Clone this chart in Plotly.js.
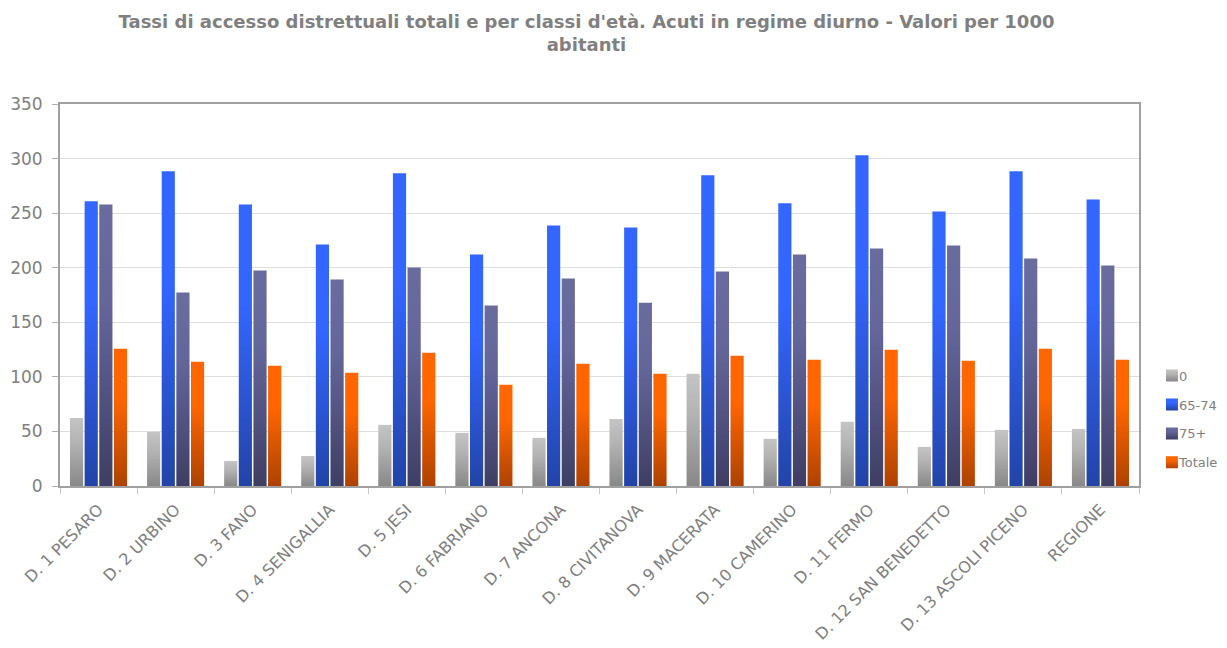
<!DOCTYPE html>
<html>
<head>
<meta charset="utf-8">
<script src="https://cdn.plot.ly/plotly-3.0.1.min.js"></script>
<style>
html,body{margin:0;padding:0;background:#fff;}
#chart{width:1227px;height:648px;}
</style>
</head>
<body>
<div id="chart"></div>
<script>
const categories = ["D. 1 PESARO","D. 2 URBINO","D. 3 FANO","D. 4 SENIGALLIA","D. 5 JESI","D. 6 FABRIANO","D. 7 ANCONA","D. 8 CIVITANOVA","D. 9 MACERATA","D. 10 CAMERINO","D. 11 FERMO","D. 12 SAN BENEDETTO","D. 13 ASCOLI PICENO","REGIONE"];
const seriesNames = ["0","65-74","75+","Totale"];
const val0     = [62.4, 49.6, 23.0, 27.5, 56.0, 48.7, 44.1, 61.5, 102.8, 43.2, 58.8, 35.8, 51.4, 52.3];
const val6574  = [260.8, 288.3, 258.0, 221.3, 286.5, 212.1, 238.7, 236.9, 284.7, 259.0, 303.0, 251.6, 288.3, 262.6];
const val75    = [258.0, 177.2, 197.4, 189.2, 200.2, 165.3, 190.1, 168.0, 196.5, 212.1, 217.6, 220.4, 208.4, 202.0];
const valTot   = [125.8, 113.9, 110.2, 103.8, 122.1, 92.7, 112.0, 102.8, 119.4, 115.7, 124.9, 114.8, 125.8, 115.7];
const yTicks = [0, 50, 100, 150, 200, 250, 300, 350];

const grads = [
  {top:"#c4c4c4", mid:"#b4b4b4", bot:"#888888"},
  {top:"#3366ff", mid:"#3366ff", bot:"#2244a8"},
  {top:"#6a6c9e", mid:"#64669a", bot:"#3e3e64"},
  {top:"#ff6600", mid:"#ff6600", bot:"#ad4200"}
];
const allVals = [val0, val6574, val75, valTot];

const traces = allVals.map((v, i) => ({
  type: "bar",
  name: seriesNames[i],
  x: categories,
  y: v,
  legendgroup: "g" + i,
  marker: {color: grads[i].top, line: {width: 0}},
  hoverinfo: "x+y+name"
}));

const grey = "#808080";
const layout = {
  width: 1227, height: 648,
  paper_bgcolor: "#ffffff", plot_bgcolor: "#ffffff",
  margin: {l: 60, r: 88, t: 104, b: 162, pad: 0, autoexpand: false},
  barmode: "group",
  bargap: 0.24,
  bargroupgap: 0.1,
  title: {
    text: "<b>Tassi di accesso distrettuali totali e per classi d'età. Acuti in regime diurno - Valori per 1000<br>abitanti</b>",
    font: {family: "DejaVu Sans", size: 18, color: grey},
    x: 0.478, xref: "container", xanchor: "center",
    y: 0.957, yref: "container", yanchor: "top"
  },
  font: {family: "DejaVu Sans", color: grey},
  xaxis: {
    type: "category",
    tickangle: -45,
    tickfont: {family: "DejaVu Sans", size: 16, color: grey},
    ticks: "outside", ticklen: 6, tickcolor: "#c8c8c8", tickson: "boundaries",
    ticklabelstandoff: 6,
    showline: true, linecolor: "#a0a0a0", linewidth: 2, mirror: true,
    showgrid: false, zeroline: false, fixedrange: true
  },
  yaxis: {
    range: [0, 350],
    tickvals: yTicks,
    tickfont: {family: "DejaVu Sans", size: 17, color: grey},
    ticks: "outside", ticklen: 6, tickcolor: "#b0b0b0",
    ticklabelstandoff: 6,
    showline: true, linecolor: "#a0a0a0", linewidth: 2, mirror: true,
    showgrid: true, gridcolor: "#dddddd", gridwidth: 1,
    zeroline: false, fixedrange: true
  },
  showlegend: true,
  legend: {
    x: 1.012, xanchor: "left", y: 0.175, yanchor: "middle",
    font: {family: "DejaVu Sans", size: 13, color: grey},
    traceorder: "grouped", tracegroupgap: 9,
    itemwidth: 30, bgcolor: "rgba(0,0,0,0)"
  }
};

function applyGradients(gd) {
  const svg = gd.querySelector(".main-svg");
  if (!svg) return;
  let defs = svg.querySelector("defs");
  if (!defs) { defs = document.createElementNS("http://www.w3.org/2000/svg", "defs"); svg.insertBefore(defs, svg.firstChild); }
  grads.forEach((g, i) => {
    if (svg.querySelector("#bargrad" + i)) return;
    const lg = document.createElementNS("http://www.w3.org/2000/svg", "linearGradient");
    lg.setAttribute("id", "bargrad" + i);
    lg.setAttribute("x1", "0"); lg.setAttribute("y1", "0");
    lg.setAttribute("x2", "0"); lg.setAttribute("y2", "1");
    [[0, g.top], [0.35, g.mid], [1, g.bot]].forEach(([o, c]) => {
      const s = document.createElementNS("http://www.w3.org/2000/svg", "stop");
      s.setAttribute("offset", o); s.setAttribute("stop-color", c);
      lg.appendChild(s);
    });
    defs.appendChild(lg);
  });
  gd.querySelectorAll(".barlayer .trace").forEach((t, i) => {
    t.querySelectorAll(".point path").forEach(p => { p.style.fill = "url(#bargrad" + i + ")"; });
  });
  gd.querySelectorAll(".legend .traces").forEach((t, i) => {
    t.querySelectorAll(".legendpoints path").forEach(p => { p.style.fill = "url(#bargrad" + i + ")"; });
    const txt = t.querySelector("text.legendtext");
    if (txt) txt.setAttribute("x", "27");
  });
}

Plotly.newPlot("chart", traces, layout, {displayModeBar: false, staticPlot: true}).then(gd => {
  applyGradients(gd);
});
</script>
</body>
</html>
